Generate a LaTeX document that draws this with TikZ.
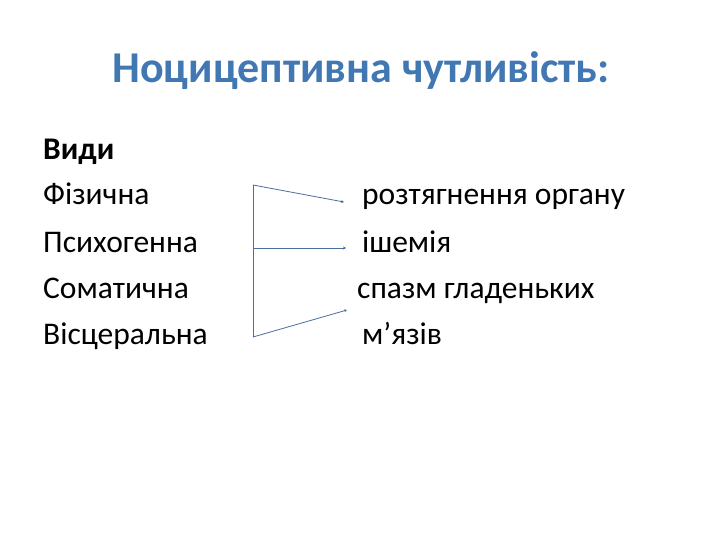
\documentclass[tikz,border=0pt]{standalone}
\usepackage{fontspec}
\setmainfont{Carlito}
\usetikzlibrary{arrows.meta}
\definecolor{titleblue}{RGB}{65,120,180}
\definecolor{arrowblue}{RGB}{74,110,160}
\begin{document}
\begin{tikzpicture}[x=1pt,y=-1pt,
                    title node/.style={font=\fontsize{44}{48}\selectfont\bfseries,text=titleblue,inner sep=0pt},
                    main node/.style={anchor=base west,font=\fontsize{31.5}{36}\selectfont,inner sep=0pt},
                    link/.style={draw=arrowblue,line width=0.8pt,-{Stealth[length=3pt,width=3pt]}}]
  \useasboundingbox[fill=white] (0,0) rectangle (720,540);
  \node[title node,anchor=base] (title) at (361,83) {Ноцицептивна чутливість:};

  \node[main node,font=\fontsize{31.5}{36}\selectfont\bfseries] (kinds) at (43,160) {Види};
  \node[main node] (1) at (43,205) {Фізична};
  \node[main node] (2) at (43,252) {Психогенна};
  \node[main node] (3) at (43,298) {Соматична};
  \node[main node] (4) at (43,344) {Вісцеральна};

  \node[main node] (5) at (362,205) {розтягнення органу};
  \node[main node] (6) at (362,252) {ішемія};
  \node[main node] (7) at (357,298) {спазм гладеньких};
  \node[main node] (8) at (362,344) {м’язів};

  \coordinate (top) at (253,185);
  \coordinate (mid) at (253,248);
  \coordinate (bot) at (253,337);

  \draw[arrowblue,line width=0.8pt] (top) -- (bot);
  \draw[link] (top) -- ([xshift=-18pt]5.west |- 0,202);
  \draw[link] (mid) -- ([xshift=-16pt]6.west |- 0,248);
  \draw[link] (bot) -- ([xshift=-10pt]7.west |- 0,310);

\end{tikzpicture}
\end{document}
